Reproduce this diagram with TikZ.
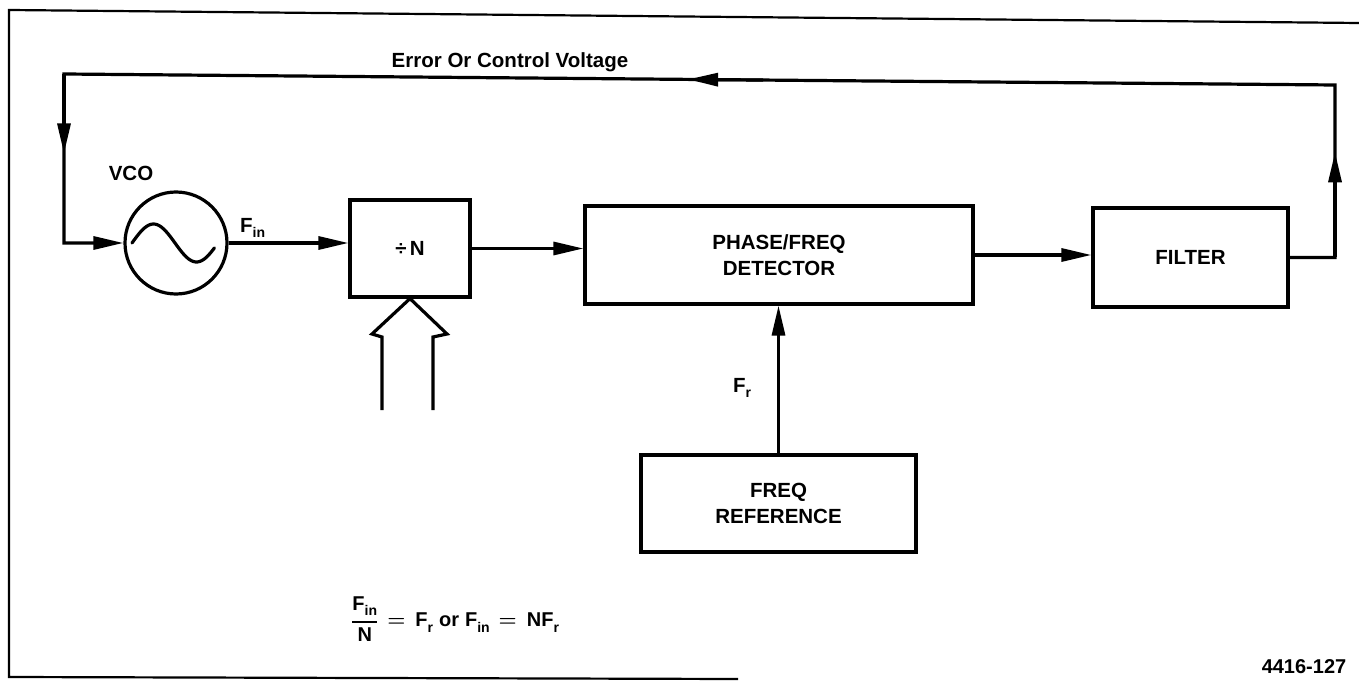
\documentclass[tikz,border=0pt]{standalone}
\usepackage{fontspec}
\usepackage{amsmath}
\setmainfont{Liberation Sans}
\usetikzlibrary{arrows.meta,calc}
\newcommand\lowsub[1]{\raisebox{-0.5ex}{\fontsize{14}{14}\selectfont #1}}
\newcommand\weq{\hspace{9pt}$\boldsymbol{=}$\hspace{10pt}}
\begin{document}
\begin{tikzpicture}[x=1pt,y=-1pt,
  every node/.style={font=\fontsize{20.5}{26}\selectfont\bfseries},
  blk/.style={draw, line width=3.2pt, rectangle, inner sep=0pt, align=center},
  osc/.style={draw, line width=3.2pt, circle, inner sep=0pt, minimum size=102pt},
  wire/.style={line width=3.2pt, line join=miter},
  arr/.style={wire, -{Triangle[length=30pt,width=13pt]}},
  frame/.style={line width=2.2pt},
  lbl/.style={inner sep=0pt}]
\useasboundingbox (0,0) rectangle (1359,684);
% frame
\draw[frame] (1359,23) -- (9,10) -- (9,677) -- (738,679);
% blocks
\node[osc] (vco) at (176,243) {};
\draw[line width=3.2pt, line cap=round] plot[domain=0:345, samples=40] ({132+\x/360*86}, {243-19*sin(\x)});
\node[blk, minimum width=120pt, minimum height=97pt] (divn) at (410,248.5) {÷\,N};
\node[blk, minimum width=388pt, minimum height=98pt] (det) at (779,255) {PHASE/FREQ\\DETECTOR};
\node[blk, minimum width=195pt, minimum height=99pt] (filt) at (1190.5,257.5) {FILTER};
\node[blk, minimum width=275pt, minimum height=97pt] (ref) at (778.5,503.5) {FREQ\\REFERENCE};
% labels
\node[lbl] (err) at (510,62) {Error Or Control Voltage};
\node[lbl] (vcol) at (131,173) {VCO};
\node[lbl, anchor=west] (fin) at (240,228) {F\lowsub{in}};
\node[lbl, anchor=west] (fr) at (733,388) {F\lowsub{r}};
\node[lbl, anchor=west] (eq) at (351,619) {\fontsize{20}{24}\selectfont\bfseries
  $\genfrac{}{}{1.8pt}{0}{\text{F\lowsub{in}}}{\text{N}}$\weq F\lowsub{r}\hspace{6pt}or\hspace{6pt}F\lowsub{in}\weq NF\lowsub{r}};
\node[lbl] (code) at (1304,667) {\fontsize{20}{22}\selectfont\bfseries 4416-127};
% forward path
\draw[arr] (vco.east) -- (vco.east -| divn.west);
\draw[arr] (divn.east) -- (divn.east -| det.west);
\draw[arr] (det.east) -- (det.east -| filt.west);
\draw[arr] (ref.north) -- (ref.north |- det.south);
% feedback loop
\coordinate (rb) at (1335,257.5);
\coordinate (rc) at (1335,85);
\coordinate (lc) at (64,74);
\coordinate (lb) at (64,243);
\draw[arr] (filt.east) -- (rb) -- (rc) -- (lc) -- (lb) -- (vco.west);
\draw[arr] (rb) -- ($(rb)!0.61!(rc)$);
\draw[arr] ($(rc)!0.45!(lc)$) -- ($(rc)!0.509!(lc)$);
\draw[arr] (lc) -- ($(lc)!0.47!(lb)$);
% hollow bus arrow into divider
\draw[wire] (382,410) -- (382,337) -- (372,334) -- (divn.south) -- (447,334) -- (433,337) -- (433,410);
\end{tikzpicture}
\end{document}
